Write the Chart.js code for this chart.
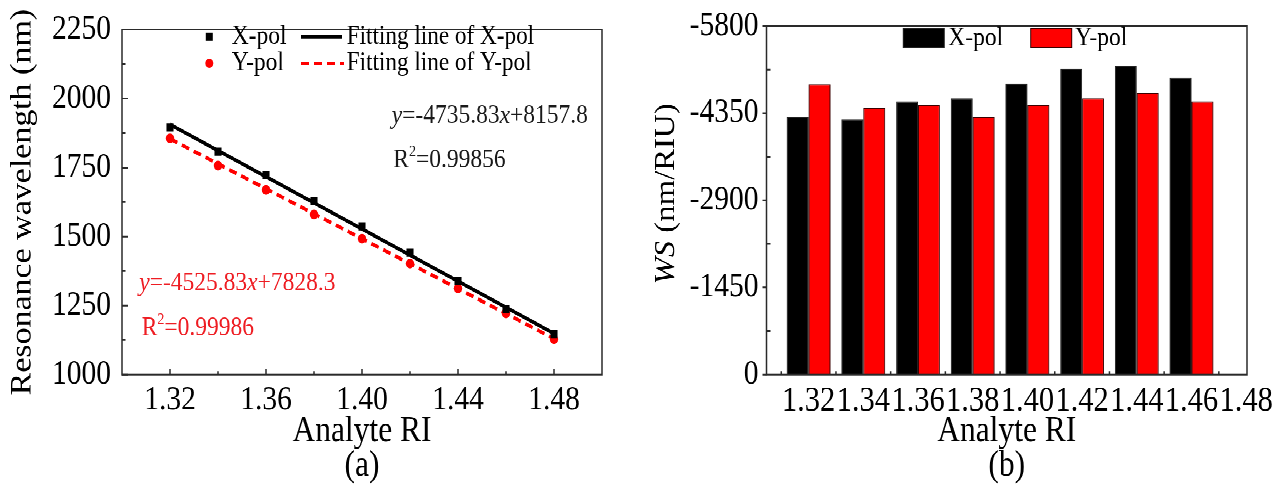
<!DOCTYPE html>
<html>
<head>
<meta charset="utf-8">
<script src="https://cdn.jsdelivr.net/npm/chart.js@4.4.0/dist/chart.umd.min.js"></script>
<style>
  html, body { margin: 0; padding: 0; background: #fff; overflow: hidden; }
  /* the figure is drawn a little flatter and stretched back to full height */
  #stage { position: absolute; left: 0; top: 0; width: 1287px; height: 426px;
           transform: scaleY(1.1502); transform-origin: 0 0; }
  #stage canvas { position: absolute; top: 0; }
</style>
</head>
<body>
<div id="stage">
  <canvas id="wavelength" width="640" height="426" style="left:0"></canvas>
  <canvas id="sensitivity" width="647" height="426" style="left:640px"></canvas>
</div>
<script>
// ---- data ----
const riValues = [1.32, 1.34, 1.36, 1.38, 1.40, 1.42, 1.44, 1.46, 1.48];
const xPolWavelength = [1896, 1808, 1722, 1628, 1537, 1441, 1340, 1238, 1146];
const yPolWavelength = [1856, 1757, 1669, 1580, 1492, 1402, 1312, 1221, 1128];
const xPolFit = [-4735.83, 8157.8];   // slope, intercept
const yPolFit = [-4525.83, 7828.3];
const xPolR2 = '0.99856';
const yPolR2 = '0.99986';

const wlTicksX = [1.32, 1.36, 1.40, 1.44, 1.48];
const wlTicksY = [1000, 1250, 1500, 1750, 2000, 2250];

const barRI = [1.32, 1.34, 1.36, 1.38, 1.40, 1.42, 1.44, 1.46];
const xPolWS = [-4290, -4250, -4545, -4595, -4840, -5090, -5140, -4945];
const yPolWS = [-4835, -4440, -4490, -4290, -4490, -4595, -4690, -4545];
const wsTicks = [0, -1450, -2900, -4350, -5800];

// ---- helpers ----
const SERIF = "'Liberation Serif', 'Times New Roman', serif";
const RED = '#ff0000';
const mids = a => a.slice(1).map((v, i) => (v + a[i]) / 2);
const fitLine = (c) => [riValues[0], riValues[riValues.length - 1]].map(x => ({ x: x, y: c[0] * x + c[1] }));

function richText(ctx, parts, x, y, size, color) {
  // parts: [text, 'i' italic | 's' superscript | '' plain]
  ctx.save();
  ctx.fillStyle = color;
  ctx.textBaseline = 'middle';
  ctx.textAlign = 'left';
  let cx = x;
  parts.forEach(([t, st]) => {
    const fs = st === 's' ? size * 0.6 : size;
    ctx.font = (st === 'i' ? 'italic ' : '') + fs + 'px ' + SERIF;
    ctx.fillText(t, cx, st === 's' ? y - size * 0.32 : y);
    cx += ctx.measureText(t).width;
  });
  ctx.restore();
  return cx - x;
}

function tickMarks(chart, axis, values, len, inward) {
  const ctx = chart.ctx, area = chart.chartArea, scale = chart.scales[axis];
  ctx.beginPath();
  values.forEach(v => {
    const p = scale.getPixelForValue(v);
    if (axis === 'x') {
      ctx.moveTo(p, area.bottom);
      ctx.lineTo(p, area.bottom + (inward ? -len : len));
    } else {
      ctx.moveTo(area.left, p);
      ctx.lineTo(area.left + (inward ? len : -len), p);
    }
  });
  ctx.stroke();
}

function frame(chart) {
  const ctx = chart.ctx, a = chart.chartArea;
  ctx.save();
  ctx.strokeStyle = '#2a2a2a';
  ctx.lineWidth = 1.5;
  ctx.strokeRect(a.left, a.top, a.right - a.left, a.bottom - a.top);
  ctx.restore();
}

const tickFont = { family: SERIF, size: 29.5, lineHeight: 1 };
const titleFont = { family: SERIF, size: 31.5, lineHeight: 0.95 };

// ---- (a) resonance wavelength ----
const wavelengthDecor = {
  id: 'wavelengthDecor',
  afterDraw(chart) {
    const ctx = chart.ctx;
    frame(chart);
    ctx.save();
    ctx.strokeStyle = '#2a2a2a';
    ctx.lineWidth = 1.5;
    tickMarks(chart, 'x', wlTicksX, 5, true);
    tickMarks(chart, 'x', mids(wlTicksX), 3, true);
    tickMarks(chart, 'y', wlTicksY, 6, true);
    tickMarks(chart, 'y', mids(wlTicksY), 3.5, true);
    ctx.restore();

    // legend, two columns
    const ds = chart.data.datasets;
    const rows = [31.9, 55.0];
    ctx.save();
    ctx.fillStyle = '#000';
    ctx.fillRect(209.3 - 3.5, rows[0] - 3.5, 7, 7);
    ctx.fillStyle = RED;
    ctx.beginPath();
    ctx.arc(209.3, rows[1], 4, 0, Math.PI * 2);
    ctx.fill();
    ctx.lineWidth = 3;
    ctx.strokeStyle = '#000';
    ctx.beginPath(); ctx.moveTo(301, rows[0]); ctx.lineTo(342, rows[0]); ctx.stroke();
    ctx.strokeStyle = RED;
    ctx.setLineDash([8, 5]);
    ctx.beginPath(); ctx.moveTo(301, rows[1]); ctx.lineTo(344, rows[1]); ctx.stroke();
    ctx.restore();
    richText(ctx, [[ds[0].label, '']], 231.7, rows[0], 23.5, '#000');
    richText(ctx, [[ds[1].label, '']], 231.7, rows[1], 23.5, '#000');
    richText(ctx, [[ds[2].label, '']], 346.7, rows[0], 23.2, '#000');
    richText(ctx, [[ds[3].label, '']], 346.7, rows[1], 23.2, '#000');

    // fitted equations
    const eq = (c) => [['y', 'i'], ['=' + c[0], ''], ['x', 'i'], ['+' + c[1], '']];
    richText(ctx, eq(xPolFit), 391.7, 100.9, 23.5, '#1a1a1a');
    richText(ctx, [['R', ''], ['2', 's'], ['=' + xPolR2, '']], 393.3, 139.2, 23.5, '#1a1a1a');
    richText(ctx, eq(yPolFit), 139.3, 246.3, 23.5, '#ee1d23');
    richText(ctx, [['R', ''], ['2', 's'], ['=' + yPolR2, '']], 141.7, 285.4, 23.5, '#ee1d23');
  }
};

new Chart(document.getElementById('wavelength'), {
  type: 'scatter',
  data: {
    datasets: [
      {
        label: 'X-pol',
        data: riValues.map((x, i) => ({ x: x, y: xPolWavelength[i] })),
        pointStyle: 'rect', pointRadius: 5, pointBackgroundColor: '#000',
        pointBorderWidth: 0, borderColor: '#000'
      },
      {
        label: 'Y-pol',
        data: riValues.map((x, i) => ({ x: x, y: yPolWavelength[i] })),
        pointStyle: 'circle', pointRadius: 4.2, pointBackgroundColor: RED,
        pointBorderWidth: 0, borderColor: RED
      },
      {
        label: 'Fitting line of X-pol',
        data: fitLine(xPolFit),
        showLine: true, borderColor: '#000', borderWidth: 3.2, pointRadius: 0
      },
      {
        label: 'Fitting line of Y-pol',
        data: fitLine(yPolFit),
        showLine: true, borderColor: RED, borderWidth: 3.2, borderDash: [8, 5], pointRadius: 0
      }
    ]
  },
  options: {
    responsive: false,
    animation: false,
    devicePixelRatio: 2,
    layout: { padding: { left: 0, right: 38, top: 16.1, bottom: 0 } },
    plugins: { legend: { display: false }, tooltip: { enabled: false } },
    scales: {
      x: {
        type: 'linear', min: 1.30, max: 1.50,
        afterBuildTicks: s => { s.ticks = wlTicksX.map(v => ({ value: v })); },
        afterFit: s => { s.height = 100.4; },
        grid: { display: false, drawTicks: false },
        border: { display: false },
        ticks: { font: tickFont, color: '#000', padding: 8, maxRotation: 0,
                 callback: v => v.toFixed(2) },
        title: { display: true, text: ['Analyte RI', '(a)'], font: titleFont, color: '#000',
                 padding: { top: 0, bottom: 6 } }
      },
      y: {
        min: 1000, max: 2250,
        afterBuildTicks: s => { s.ticks = wlTicksY.map(v => ({ value: v })); },
        afterFit: s => { s.width = 122; },
        grid: { display: false, drawTicks: false },
        border: { display: false },
        ticks: { font: tickFont, color: '#000', padding: 11, callback: v => String(v) },
        title: { display: true, text: 'Resonance wavelength (nm)',
                 font: { family: SERIF, size: 29.5, lineHeight: 1.2 }, color: '#000',
                 padding: { top: 5, bottom: 0 } }
      }
    }
  },
  plugins: [wavelengthDecor]
});

// ---- (b) wavelength sensitivity ----
const sensitivityDecor = {
  id: 'sensitivityDecor',
  afterDraw(chart) {
    const ctx = chart.ctx;
    frame(chart);
    ctx.save();
    ctx.strokeStyle = '#2a2a2a';
    ctx.lineWidth = 1.5;
    tickMarks(chart, 'x', riValues.map(v => v - 0.01), 3, true);
    tickMarks(chart, 'y', wsTicks, 4, false);
    tickMarks(chart, 'y', mids(wsTicks), 4, true);
    ctx.restore();

    // legend boxes
    const ds = chart.data.datasets;
    const boxes = [[263.3, ds[0]], [390.7, ds[1]]];
    ctx.save();
    boxes.forEach(([bx, d]) => {
      ctx.fillStyle = d.backgroundColor;
      ctx.fillRect(bx, 24.6, 41, 16.9);
      ctx.strokeStyle = d.borderColor;
      ctx.lineWidth = 1;
      ctx.strokeRect(bx, 24.6, 41, 16.9);
    });
    ctx.restore();
    richText(ctx, [[ds[0].label, '']], 308.3, 33.3, 23.5, '#000');
    richText(ctx, [[ds[1].label, '']], 435, 33.3, 23.5, '#000');

    // rotated axis title with italic symbol
    const parts = [['WS', 'i'], [' (nm/RIU)', '']];
    ctx.save();
    let w = 0;
    parts.forEach(([t, st]) => {
      ctx.font = (st === 'i' ? 'italic ' : '') + '28.5px ' + SERIF;
      w += ctx.measureText(t).width;
    });
    ctx.translate(26.7, 168.7);
    ctx.rotate(-Math.PI / 2);
    richText(ctx, parts, -w / 2, 0, 28.5, '#000');
    ctx.restore();
  }
};

new Chart(document.getElementById('sensitivity'), {
  type: 'bar',
  data: {
    datasets: [
      {
        label: 'X-pol',
        data: barRI.map((x, i) => ({ x: x, y: xPolWS[i] })),
        backgroundColor: '#000', borderColor: '#222', borderWidth: 1
      },
      {
        label: 'Y-pol',
        data: barRI.map((x, i) => ({ x: x, y: yPolWS[i] })),
        backgroundColor: RED, borderColor: '#3a0000', borderWidth: 1
      }
    ]
  },
  options: {
    responsive: false,
    animation: false,
    devicePixelRatio: 2,
    categoryPercentage: 0.8,
    barPercentage: 1.0,
    layout: { padding: { left: 0, right: 40, top: 16.1, bottom: 0 } },
    plugins: { legend: { display: false }, tooltip: { enabled: false } },
    scales: {
      x: {
        type: 'linear', min: 1.3046, max: 1.4803, offset: false,
        afterBuildTicks: s => { s.ticks = riValues.map(v => ({ value: v })); },
        afterFit: s => { s.height = 100.4; },
        grid: { display: false, drawTicks: false },
        border: { display: false },
        ticks: { font: { family: SERIF, size: 30.5, lineHeight: 1 }, color: '#000', padding: 8,
                 maxRotation: 0, autoSkip: false, callback: v => v.toFixed(2) },
        title: { display: true, text: ['Analyte RI', '(b)'], font: titleFont, color: '#000',
                 padding: { top: 0, bottom: 6 } }
      },
      y: {
        min: -5800, max: 0, reverse: true,
        afterBuildTicks: s => { s.ticks = wsTicks.map(v => ({ value: v })); },
        afterFit: s => { s.width = 126.5; },
        grid: { display: false, drawTicks: false },
        border: { display: false },
        ticks: { font: tickFont, color: '#000', padding: 8, callback: v => String(v) }
      }
    }
  },
  plugins: [sensitivityDecor]
});
</script>
</body>
</html>
